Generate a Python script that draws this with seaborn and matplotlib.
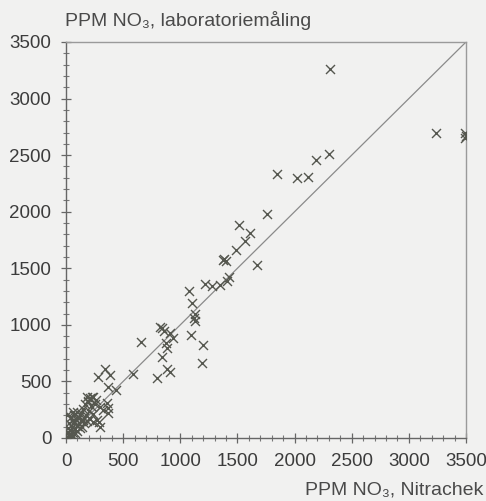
import matplotlib
matplotlib.use("Agg")
import matplotlib.pyplot as plt
import seaborn as sns
import pandas as pd
from matplotlib.ticker import MultipleLocator

# Nitrachek reading (x) vs laboratory measurement (y), ppm NO3
nitrachek = [
    2310, 3240, 3490, 3500, 3495,
    2300, 2190, 2120, 1850, 2020, 1760,
    1510, 1610, 1570, 1490, 1380, 1400, 1370, 1670,
    1430, 1220, 1280, 1345, 1410, 1080, 1100, 1130, 1120, 1130,
    1095, 1195, 1190,
    820, 840, 860, 910, 940, 875, 887, 837, 653, 881, 910, 799, 590,
    341, 280, 385, 370, 437, 356, 370, 370, 210, 195, 239, 151,
    297, 326, 239, 297, 181,
    10, 20, 25, 35, 40, 50, 55, 60, 70, 75, 80, 90, 95, 100, 110, 115,
    120, 130, 135, 140, 150, 155, 160, 170, 175, 185, 190, 200, 210, 220,
    230, 240, 250, 260, 270, 290, 40, 70, 30, 15, 100, 60, 6, 64,
]
laboratorie = [
    3260, 2700, 2700, 2670, 2650,
    2510, 2460, 2310, 2330, 2300, 1980,
    1880, 1810, 1740, 1660, 1580, 1560, 1570, 1530,
    1420, 1360, 1340, 1355, 1390, 1300, 1190, 1100, 1060, 1030,
    910, 820, 665,
    985, 970, 950, 925, 880, 840, 795, 720, 852, 607, 586, 533, 565,
    612, 535, 557, 454, 424, 307, 262, 218, 351, 321, 144, 159,
    277, 248, 365, 100, 365,
    10, 40, 15, 70, 30, 100, 50, 20, 130, 80, 40, 170, 110, 60, 190, 130,
    90, 220, 150, 100, 260, 180, 130, 300, 200, 150, 330, 240, 170, 280,
    360, 210, 300, 340, 160, 140, 190, 200, 130, 90, 230, 160, 203, 230,
]
x_ticks = [0, 500, 1000, 1500, 2000, 2500, 3000, 3500]
y_ticks = [0, 500, 1000, 1500, 2000, 2500, 3000, 3500]

df = pd.DataFrame({"nitrachek": nitrachek, "lab": laboratorie})

bg = "#f1f1f0"
sns.set_style("ticks")
plt.rcParams["font.family"] = ["Liberation Sans", "DejaVu Sans"]

fig = plt.figure(figsize=(4.86, 5.01), dpi=100, facecolor=bg)
ax = fig.add_axes([66 / 486, 63 / 501, 400 / 486, 396 / 501])
ax.set_facecolor(bg)

ax.plot([0, 3500], [0, 3500], color="#8a8a8a", lw=0.9, zorder=1)
sns.scatterplot(data=df, x="nitrachek", y="lab", marker="x", color="#55574f",
                s=42, linewidth=1.0, ax=ax, zorder=3, legend=False)

ax.set_xlim(0, 3500)
ax.set_ylim(0, 3500)
ax.set_xticks(x_ticks)
ax.set_yticks(y_ticks)
ax.xaxis.set_minor_locator(MultipleLocator(100))
ax.yaxis.set_minor_locator(MultipleLocator(100))
ax.tick_params(which="major", direction="inout", length=7, width=0.9,
               color="#666666", labelsize=13.5, labelcolor="#3c3c3c", pad=7)
ax.tick_params(which="minor", direction="inout", length=4, width=0.8,
               color="#777777")
ax.set_xlabel("")
ax.set_ylabel("")

for side in ["left", "bottom"]:
    ax.spines[side].set_color("#666666")
    ax.spines[side].set_linewidth(1.0)
for side in ["top", "right"]:
    ax.spines[side].set_visible(True)
    ax.spines[side].set_color("#9a9a9a")
    ax.spines[side].set_linewidth(1.0)

fig.text(65 / 486, 1 - 20 / 501, "PPM NO\u2083, laboratoriemåling",
         fontsize=14, color="#4a4a4a", ha="left", va="center")
fig.text(483 / 486, 1 - 490 / 501, "PPM NO\u2083, Nitrachek",
         fontsize=14, color="#4a4a4a", ha="right", va="center")

fig.savefig("out.png", dpi=100, facecolor=bg)
